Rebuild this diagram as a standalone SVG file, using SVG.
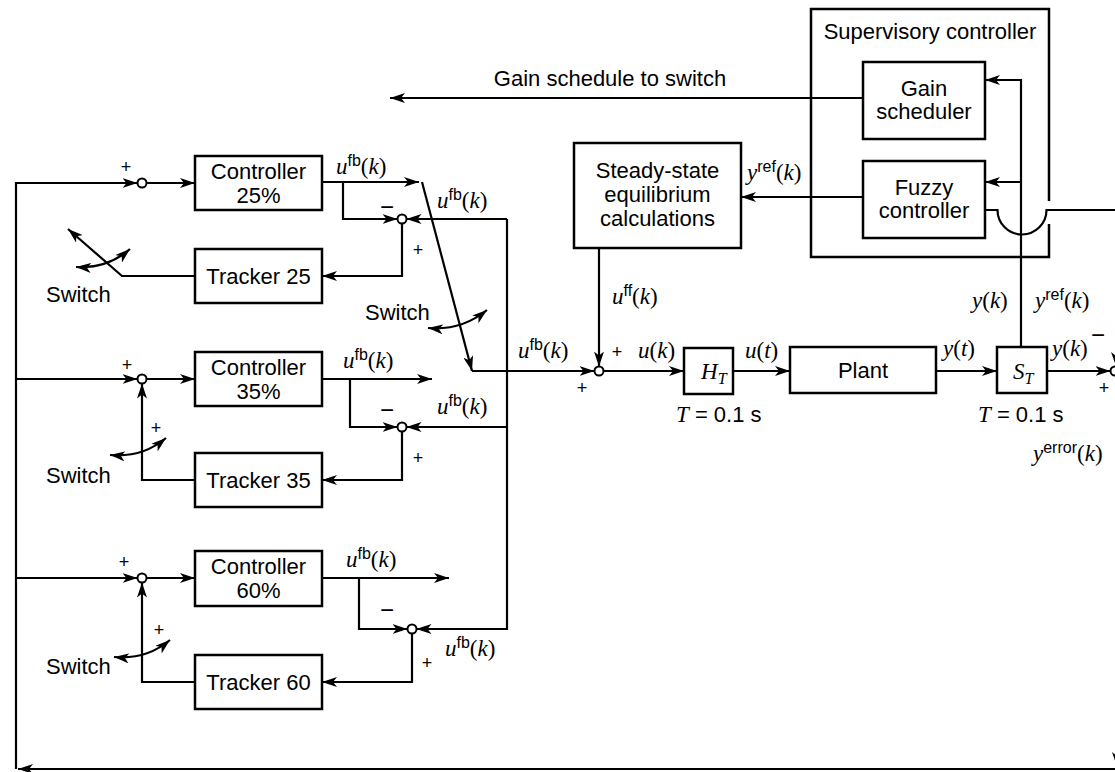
<svg xmlns="http://www.w3.org/2000/svg" width="1115" height="772" viewBox="0 0 1115 772">
<defs>
<style>
 .box{fill:#fff;stroke:#000;stroke-width:2.5}
 .ln{fill:none;stroke:#000;stroke-width:2.2}
 .ar{marker-end:url(#ah)}
 .dbl{marker-start:url(#ah);marker-end:url(#ah)}
 .sum{fill:#fff;stroke:#000;stroke-width:2}
 text{font-family:"Liberation Sans",Arial,sans-serif;font-size:22px;fill:#000;opacity:0.999}
 .c{text-anchor:middle}
 .m{font-family:"Liberation Serif","Times New Roman",serif;font-size:23px}
 .i{font-style:italic}
 .sp{font-family:"Liberation Sans",Arial,sans-serif;font-size:16px;font-style:normal}
 .sb{font-family:"Liberation Serif","Times New Roman",serif;font-size:16px;font-style:italic}
 .sg{font-size:18px;text-anchor:middle}
 .mn{font-size:24px;text-anchor:middle}
</style>
<marker id="ah" markerUnits="userSpaceOnUse" markerWidth="15" markerHeight="10" refX="15" refY="5" orient="auto-start-reverse" viewBox="0 0 15 10">
 <path d="M0,0 L15,5 L0,10 L4,5 z" fill="#000"/>
</marker>
</defs>

<!-- connectors -->
<g id="connectors">
 <!-- feedback bus -->
 <path class="ln ar" d="M1117,769 L18,769"/>
 <path class="ln ar" d="M16,769 L16,183 L137.5,183"/>
 <path class="ln ar" d="M16,379 L137.5,379"/>
 <path class="ln ar" d="M16,578 L137.5,578"/>

 <!-- bank 25% -->
 <path class="ln ar" d="M146.5,183 L195,183"/>
 <path class="ln ar" d="M322,182 L419,182"/>
 <path class="ln ar" d="M343,182 L343,219 L397.5,219"/>
 <path class="ln ar" d="M507,219 L406.5,219"/>
 <path class="ln ar" d="M402,223.5 L402,276 L322,276"/>
 <path class="ln ar" d="M195,276 L122,276 L68,229"/>
 <path class="ln dbl" d="M76,267 Q107,269 130,249"/>

 <!-- bank 35% -->
 <path class="ln ar" d="M146.5,379 L195,379"/>
 <path class="ln ar" d="M322,379 L432,379"/>
 <path class="ln ar" d="M350,379 L350,427 L397.5,427"/>
 <path class="ln ar" d="M507,427 L406.5,427"/>
 <path class="ln ar" d="M402,431.5 L402,480 L322,480"/>
 <path class="ln ar" d="M195,480 L142,480 L142,383.5"/>
 <path class="ln dbl" d="M110,455 Q142,458 166,438"/>

 <!-- bank 60% -->
 <path class="ln ar" d="M146.5,578 L195,578"/>
 <path class="ln ar" d="M322,578 L449,578"/>
 <path class="ln ar" d="M359,578 L359,629 L407.5,629"/>
 <path class="ln ar" d="M507,219 L507,629 L416.5,629"/>
 <path class="ln ar" d="M412,633.5 L412,682 L322,682"/>
 <path class="ln ar" d="M195,682 L142,682 L142,582.5"/>
 <path class="ln dbl" d="M114,657 Q146,660 170,640"/>

 <!-- output switch -->
 <path class="ln ar" d="M422,182 L472,371"/>
 <path class="ln ar" d="M472,371 L594.5,371"/>
 <path class="ln dbl" d="M428,328 Q461,331 487,310"/>

 <!-- forward path -->
 <path class="ln ar" d="M599,248 L599,366.5"/>
 <path class="ln ar" d="M603.5,371 L684,371"/>
 <path class="ln ar" d="M733,371 L790,371"/>
 <path class="ln ar" d="M936,371 L997,371"/>
 <path class="ln ar" d="M1047,371 L1110.5,371"/>

 <!-- supervisory signals -->
 <path class="ln ar" d="M1021,347 L1021,80 L985,80"/>
 <path class="ln ar" d="M1021,182 L985,182"/>
 <path class="ln" d="M985,210 L997.5,210 A24.5,24.5 0 0 0 1046.5,210 L1115,210"/>
 <path class="ln ar" d="M863,98 L390,98"/>
 <path class="ln ar" d="M863,197 L741,197"/>

 <!-- heads entering from the right edge -->
 <path d="M1111,352 L1116,366 L1121,352 L1116,356 z" fill="#000"/>
 <path d="M1112,752 L1117,766 L1122,752 L1117,756 z" fill="#000"/>
</g>

<!-- summing junctions -->
<g id="sum-25-in"><circle class="sum" cx="142" cy="183" r="4.5"/></g>
<g id="sum-25-trk"><circle class="sum" cx="402" cy="219" r="4.5"/></g>
<g id="sum-35-in"><circle class="sum" cx="142" cy="379" r="4.5"/></g>
<g id="sum-35-trk"><circle class="sum" cx="402" cy="427" r="4.5"/></g>
<g id="sum-60-in"><circle class="sum" cx="142" cy="578" r="4.5"/></g>
<g id="sum-60-trk"><circle class="sum" cx="412" cy="629" r="4.5"/></g>
<g id="sum-u"><circle class="sum" cx="599" cy="371" r="4.5"/></g>
<g id="sum-err"><circle class="sum" cx="1115" cy="371" r="4.5"/></g>

<!-- blocks -->
<g id="controller-25">
 <rect class="box" x="195" y="156" width="127" height="54"/>
 <text class="c" x="258.5" y="179">Controller</text>
 <text class="c" x="258.5" y="203">25%</text>
</g>
<g id="tracker-25">
 <rect class="box" x="195" y="249" width="127" height="54"/>
 <text class="c" x="258.5" y="284">Tracker 25</text>
</g>
<g id="controller-35">
 <rect class="box" x="195" y="352" width="127" height="54"/>
 <text class="c" x="258.5" y="375">Controller</text>
 <text class="c" x="258.5" y="399">35%</text>
</g>
<g id="tracker-35">
 <rect class="box" x="195" y="453" width="127" height="54"/>
 <text class="c" x="258.5" y="488">Tracker 35</text>
</g>
<g id="controller-60">
 <rect class="box" x="195" y="551" width="127" height="55"/>
 <text class="c" x="258.5" y="574">Controller</text>
 <text class="c" x="258.5" y="598">60%</text>
</g>
<g id="tracker-60">
 <rect class="box" x="195" y="655" width="127" height="54"/>
 <text class="c" x="258.5" y="690">Tracker 60</text>
</g>
<g id="steady-state">
 <rect class="box" x="574" y="143" width="167" height="105"/>
 <text class="c" x="657.5" y="178">Steady-state</text>
 <text class="c" x="657.5" y="202">equilibrium</text>
 <text class="c" x="657.5" y="226">calculations</text>
</g>
<g id="hold">
 <rect class="box" x="684" y="348" width="49" height="46"/>
 <text class="m i" x="701" y="379">H<tspan class="sb" dy="5">T</tspan></text>
 <text x="676" y="422"><tspan class="m i">T</tspan> = 0.1 s</text>
</g>
<g id="plant">
 <rect class="box" x="790" y="347" width="146" height="46"/>
 <text class="c" x="863" y="378">Plant</text>
</g>
<g id="sampler">
 <rect class="box" x="997" y="347" width="50" height="46"/>
 <text class="m i" x="1013" y="379">S<tspan class="sb" dy="5">T</tspan></text>
 <text x="978" y="422"><tspan class="m i">T</tspan> = 0.1 s</text>
</g>
<g id="supervisory-controller">
 <path class="ln" style="stroke-width:2.5" d="M1049,201 V9 H811 V257 H1049 V224"/>
 <text class="c" x="930" y="39">Supervisory controller</text>
</g>
<g id="gain-scheduler">
 <rect class="box" x="863" y="62" width="122" height="77"/>
 <text class="c" x="924" y="96">Gain</text>
 <text class="c" x="924" y="119">scheduler</text>
</g>
<g id="fuzzy-controller">
 <rect class="box" x="863" y="161" width="122" height="77"/>
 <text class="c" x="924" y="195">Fuzzy</text>
 <text class="c" x="924" y="218">controller</text>
</g>

<!-- signal labels -->
<g id="labels">
 <text class="c" x="610" y="86">Gain schedule to switch</text>
 <text x="46" y="302">Switch</text>
 <text x="46" y="483">Switch</text>
 <text x="46" y="674">Switch</text>
 <text x="365" y="320">Switch</text>

 <text class="m" x="336" y="174"><tspan class="i">u</tspan><tspan class="sp" dy="-8">fb</tspan><tspan dy="8">(</tspan><tspan class="i">k</tspan>)</text>
 <text class="m" x="437" y="208"><tspan class="i">u</tspan><tspan class="sp" dy="-8">fb</tspan><tspan dy="8">(</tspan><tspan class="i">k</tspan>)</text>
 <text class="m" x="343" y="368"><tspan class="i">u</tspan><tspan class="sp" dy="-8">fb</tspan><tspan dy="8">(</tspan><tspan class="i">k</tspan>)</text>
 <text class="m" x="437" y="414"><tspan class="i">u</tspan><tspan class="sp" dy="-8">fb</tspan><tspan dy="8">(</tspan><tspan class="i">k</tspan>)</text>
 <text class="m" x="346" y="567"><tspan class="i">u</tspan><tspan class="sp" dy="-8">fb</tspan><tspan dy="8">(</tspan><tspan class="i">k</tspan>)</text>
 <text class="m" x="445" y="656"><tspan class="i">u</tspan><tspan class="sp" dy="-8">fb</tspan><tspan dy="8">(</tspan><tspan class="i">k</tspan>)</text>
 <text class="m" x="518" y="358"><tspan class="i">u</tspan><tspan class="sp" dy="-8">fb</tspan><tspan dy="8">(</tspan><tspan class="i">k</tspan>)</text>
 <text class="m" x="612" y="304"><tspan class="i">u</tspan><tspan class="sp" dy="-8">ff</tspan><tspan dy="8">(</tspan><tspan class="i">k</tspan>)</text>
 <text class="m" x="638" y="358"><tspan class="i">u</tspan>(<tspan class="i">k</tspan>)</text>
 <text class="m" x="745" y="358"><tspan class="i">u</tspan>(<tspan class="i">t</tspan>)</text>
 <text class="m" x="747" y="180"><tspan class="i">y</tspan><tspan class="sp" dy="-8">ref</tspan><tspan dy="8">(</tspan><tspan class="i">k</tspan>)</text>
 <text class="m" x="943" y="356"><tspan class="i">y</tspan>(<tspan class="i">t</tspan>)</text>
 <text class="m" x="972" y="308"><tspan class="i">y</tspan>(<tspan class="i">k</tspan>)</text>
 <text class="m" x="1035" y="308"><tspan class="i">y</tspan><tspan class="sp" dy="-8">ref</tspan><tspan dy="8">(</tspan><tspan class="i">k</tspan>)</text>
 <text class="m" x="1052" y="356"><tspan class="i">y</tspan>(<tspan class="i">k</tspan>)</text>
 <text class="m" x="1033" y="461"><tspan class="i">y</tspan><tspan class="sp" dy="-8">error</tspan><tspan dy="8">(</tspan><tspan class="i">k</tspan>)</text>

 <!-- junction signs -->
 <text class="sg" x="126" y="173">+</text>
 <text class="mn" x="387" y="215">−</text>
 <text class="sg" x="418" y="256">+</text>
 <text class="sg" x="127" y="371">+</text>
 <text class="sg" x="156" y="434">+</text>
 <text class="mn" x="387" y="418">−</text>
 <text class="sg" x="418" y="464">+</text>
 <text class="sg" x="124" y="568">+</text>
 <text class="sg" x="159" y="636">+</text>
 <text class="mn" x="387" y="618">−</text>
 <text class="sg" x="427" y="669">+</text>
 <text class="sg" x="617" y="358">+</text>
 <text class="sg" x="582" y="394">+</text>
 <text class="mn" x="1098" y="343">−</text>
 <text class="sg" x="1104" y="394">+</text>
</g>
</svg>
